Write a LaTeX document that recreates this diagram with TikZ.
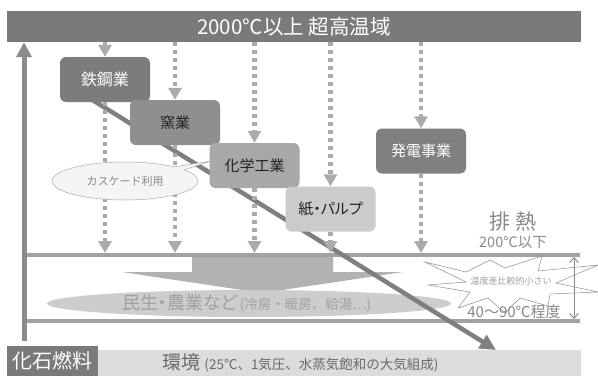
\documentclass[tikz,border=0pt]{standalone}
\usepackage{fontspec}
\setmainfont{Noto Sans CJK JP}
\newfontfamily\pfont{Noto Sans CJK JP}[RawFeature=+palt]
\usetikzlibrary{arrows.meta,shapes.callouts,shapes.geometric}
\definecolor{barc}{HTML}{7A7A7A}
\definecolor{dotc}{HTML}{ABABAB}
\definecolor{linec}{HTML}{A2A2A2}
\definecolor{diagc}{HTML}{7F7F7F}
\definecolor{leftc}{HTML}{8C8C8C}
\definecolor{boxa}{HTML}{7C7C7C}
\definecolor{boxb}{HTML}{8F8F8F}
\definecolor{boxc}{HTML}{A8A8A8}
\definecolor{boxd}{HTML}{CBCBCB}
\definecolor{boxe}{HTML}{808080}
\definecolor{widec}{HTML}{B2B2B2}
\definecolor{ellc}{HTML}{CDCDCD}
\definecolor{elltxt}{HTML}{A0A0A0}
\definecolor{envc}{HTML}{DCDCDC}
\definecolor{greytxt}{HTML}{888888}
\definecolor{darktxt}{HTML}{222222}
\definecolor{envtxt}{HTML}{6A6A6A}
\newcommand\fsz[1]{\fontsize{#1}{#1}\selectfont}
\begin{document}
\begin{tikzpicture}[x=1pt,y=-1pt,
  indbox/.style={rounded corners=6pt, minimum width=90pt, minimum height=45pt, inner sep=0pt, font=\fsz{15}},
  dotarrow/.style={draw=dotc, line width=4.5pt, dash pattern=on 4pt off 4pt, -{Triangle[width=13pt,length=12pt]}},
  hline/.style={draw=linec, line width=4pt},
  gtext/.style={text=greytxt, inner sep=0pt}
]
\useasboundingbox (0,0) rectangle (598,376);

% top bar
\node[fill=barc, minimum width=574pt, minimum height=31pt, inner sep=0pt, text=white, font=\fsz{20.5}] (top) at (294,26.5) {2000℃以上 超高温域};

% horizontal lines
\coordinate (L1a) at (24,255);
\coordinate (L1b) at (580,255);
\coordinate (L2a) at (24,321);
\coordinate (L2b) at (580,321);
\coordinate (L1top) at (0,253);

% boxes (positions)
\coordinate (ctekko) at (105,79.5);
\coordinate (cyogyo) at (175,122.5);
\coordinate (ckagaku) at (254.5,165.5);
\coordinate (ckami) at (330.5,209);
\coordinate (chatsu) at (421,151);

% wide arrow and ellipse
\fill[widec] (192,257) -- (333,257) -- (333,272) -- (403,272) -- (262,293) -- (122,272) -- (192,272) -- cycle;
\fill[ellc] (249,303.5) ellipse [x radius=202, y radius=13.5];
\node[text=elltxt, inner sep=0pt, anchor=west] (minsei) at (122,303) {{\pfont\fsz{18}民生・農業など} \fsz{13.5}(冷房・暖房、給湯…)};

\draw[hline] (L1a) -- (L1b);
\draw[hline] (L2a) -- (L2b);

% left arrow
\coordinate (LA) at (24,341);
\draw[draw=leftc, line width=5pt, -{Triangle[width=15pt,length=15pt]}] (LA) -- (LA |- top.south);

% diagonal arrow
\coordinate (D0) at (86,96);
\coordinate (D1) at (496,350);
\draw[draw=diagc, line width=4.5pt, -{Triangle[width=15pt,length=16pt]}] (D0) -- (D1);

% boxes
\node[indbox, fill=boxa, text=white, font=\fsz{16}] (tekko) at (ctekko) {鉄鋼業};
\node[indbox, fill=boxb, text=darktxt] (yogyo) at (cyogyo) {窯業};
\node[indbox, fill=boxc, text=darktxt] (kagaku) at (ckagaku) {化学工業};
\node[indbox, fill=boxd, text=darktxt] (kami) at (ckami) {\pfont 紙・パルプ};
\node[indbox, fill=boxe, text=white] (hatsu) at (chatsu) {発電事業};

% dotted arrows top -> boxes
\foreach \b in {tekko,yogyo,kagaku,kami,hatsu}{
  \draw[dotarrow] (\b.north |- top.south) -- (\b.north);
  \draw[dotarrow] (\b.south) -- (\b.south |- L1top);
}

% cascade callout
\node[ellipse callout, draw=dotc, fill=white!96!black, line width=0.5pt,
  minimum width=146pt, minimum height=38pt, inner sep=0pt,
  callout absolute pointer={(211,161)}, callout pointer arc=12,
  text=greytxt, font=\fsz{11}] (cascade) at (125,181) {カスケード利用};

% exhaust heat label
\node[gtext, font=\fsz{21}] (haine) at (513,222) {排 熱};
\node[gtext, font=\fsz{14.5}] (t200) at (513,242) {200℃以下};

% starburst
\draw[draw=black!45, line width=0.5pt, fill=white]
  (425,262) -- (466,272) -- (490,260) -- (505,268) -- (542,256) -- (538,271)
  -- (598,265) -- (556,283) -- (598,292) -- (550,294) -- (548,306) -- (520,298)
  -- (505,313) -- (488,298) -- (458,308) -- (470,292) -- (428,285) -- (466,282) -- cycle;
\node[text=elltxt, inner sep=0pt, font=\fsz{9}] (small) at (511,281) {温度差比較的小さい};

% double arrow
\coordinate (DA) at (574,257);
\coordinate (DB) at (574,319);
\draw[draw=greytxt, line width=0.9pt, {Straight Barb[width=9pt,length=5pt]}-{Straight Barb[width=9pt,length=5pt]}] (DA) -- (DB);

\node[gtext, font=\fsz{15}] (t4090) at (514,312) {40～90℃程度};

% bottom
\fill[envc] (98,350) rectangle (581,376);
\node[fill=barc, minimum width=91pt, minimum height=30pt, inner sep=0pt, text=white, font=\fsz{20}, anchor=north west] (fossil) at (7,346) {化石燃料};
\node[text=envtxt, inner sep=0pt, anchor=west] (env) at (162,363) {\fsz{19}環境 \fsz{13.5}(25℃、1気圧、水蒸気飽和の大気組成)};
\end{tikzpicture}
\end{document}
